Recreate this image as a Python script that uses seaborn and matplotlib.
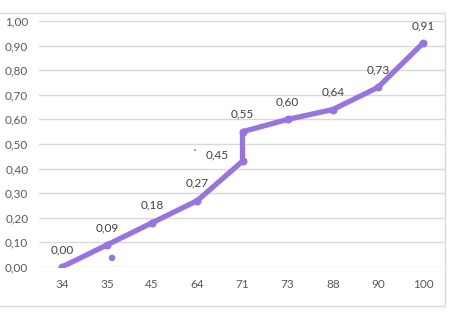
import matplotlib
matplotlib.use("Agg")
import matplotlib.pyplot as plt
import seaborn as sns
import pandas as pd
from matplotlib.patches import Rectangle

# Data
categories = ["34", "35", "45", "64", "71", "73", "88", "90", "100"]
point_categories = ["34", "35", "45", "64", "71", "71", "73", "88", "90", "100"]
values = [0.00, 0.09, 0.18, 0.27, 0.43, 0.55, 0.60, 0.64, 0.73, 0.91]
point_labels = ["0,00", "0,09", "0,18", "0,27", "0,45", "0,55", "0,60", "0,64", "0,73", "0,91"]
stray_categories = ["35", "64"]
stray_values = [0.037, 0.475]
y_ticks = [0.0, 0.1, 0.2, 0.3, 0.4, 0.5, 0.6, 0.7, 0.8, 0.9, 1.0]

sns.set_theme(style="white")
plt.rcParams['font.family'] = ['Lato', 'DejaVu Sans']

cat_index = {c: i for i, c in enumerate(categories)}
df = pd.DataFrame({
    "x": [cat_index[c] for c in point_categories],
    "y": values,
})

fig = plt.figure(figsize=(4.6, 3.23), dpi=100)
ax = fig.add_axes([39.4 / 460, (323 - 267) / 323, (445.6 - 39.4) / 460, (267 - 21) / 323])

line_color = "#9874E0"
grid_color = "#D9D9D9"
text_color = "#595959"

for t in y_ticks:
    ax.axhline(t, color=grid_color, lw=1.0, zorder=0)

sns.lineplot(data=df, x="x", y="y", sort=False, estimator=None, ax=ax,
             color=line_color, lw=3.8, marker="o", markersize=5,
             markeredgecolor=line_color, solid_capstyle="round",
             solid_joinstyle="round", zorder=3)

# stray marks
ax.scatter([cat_index[stray_categories[0]] + 0.11, cat_index[stray_categories[1]] - 0.05],
           stray_values, s=[22, 2], color=line_color, zorder=3, linewidths=0)

offsets = [(0, 12.5)] * len(values)
offsets[4] = (-18, 4.5)
for i, (c, v, lab) in enumerate(zip(point_categories, values, point_labels)):
    ax.annotate(lab, (cat_index[c], v), xytext=offsets[i], textcoords="offset points",
                ha="center", va="center", fontsize=8.5, color="#404040")

ax.set_xlim(-0.5, len(categories) - 0.5)
ax.set_ylim(0, 1.0)
ax.set_xticks(range(len(categories)))
ax.set_xticklabels(categories)
ax.set_yticks(y_ticks)
ax.set_yticklabels([f"{t:.2f}".replace(".", ",") for t in y_ticks])
ax.tick_params(axis="both", length=0, labelsize=8.5, labelcolor=text_color)
ax.tick_params(axis="x", pad=9)
ax.tick_params(axis="y", pad=8)
ax.set_xlabel("")
ax.set_ylabel("")
for s in ax.spines.values():
    s.set_visible(False)

# chart border
fig.patches.append(Rectangle((-5 / 460, (323 - 306) / 323), 450 / 460, (306 - 13) / 323,
                             transform=fig.transFigure, fill=False,
                             edgecolor=grid_color, lw=1.0))

fig.savefig("out.png", dpi=100)
